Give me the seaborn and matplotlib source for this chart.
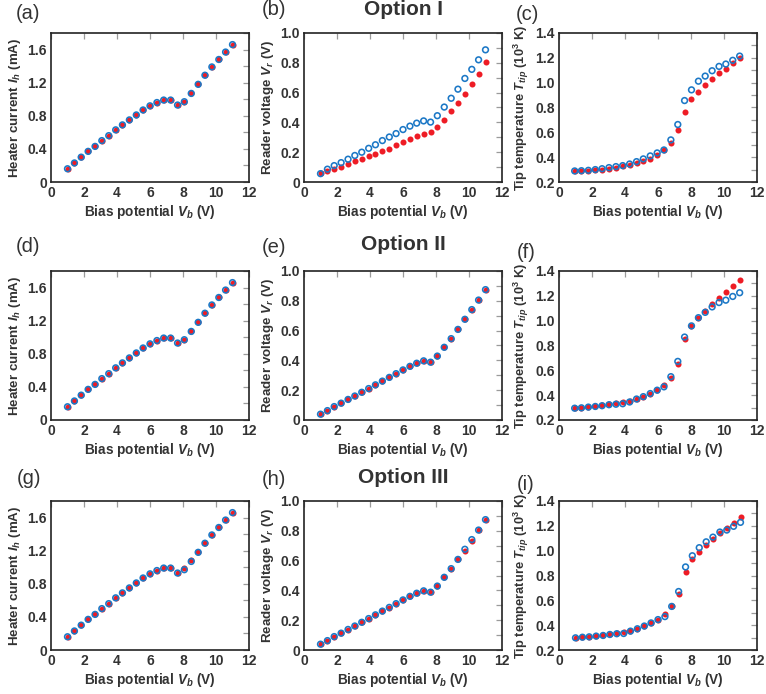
import numpy as np
import matplotlib
matplotlib.use("Agg")
import matplotlib.pyplot as plt
from matplotlib.ticker import MultipleLocator, FuncFormatter
import seaborn as sns

# ---------------- data ----------------
bias = [1.0, 1.42, 1.83, 2.25, 2.67, 3.08, 3.5, 3.92, 4.33, 4.75, 5.17, 5.58, 6.0,
        6.42, 6.83, 7.25, 7.67, 8.08, 8.5, 8.92, 9.33, 9.75, 10.17, 10.58, 11.0]
bias_t = [0.95, 1.36, 1.78, 2.2, 2.61, 3.03, 3.45, 3.86, 4.28, 4.7, 5.11, 5.53, 5.95,
          6.36, 6.78, 7.2, 7.61, 8.03, 8.45, 8.86, 9.28, 9.7, 10.11, 10.53, 10.95]

heater_I = [0.16, 0.23, 0.30, 0.37, 0.43, 0.50, 0.56, 0.63, 0.69, 0.75, 0.81, 0.87, 0.92,
            0.96, 0.99, 0.99, 0.93, 0.97, 1.07, 1.18, 1.29, 1.39, 1.48, 1.57, 1.66]
heater_I_opt3_red = [0.16, 0.23, 0.30, 0.37, 0.43, 0.50, 0.56, 0.63, 0.69, 0.75, 0.81, 0.87, 0.92,
                     0.96, 0.99, 0.99, 0.93, 0.99, 1.085, 1.18, 1.29, 1.39, 1.48, 1.57, 1.66]

vr_opt1_red = [0.059, 0.072, 0.090, 0.104, 0.120, 0.138, 0.156, 0.172, 0.187, 0.205, 0.223, 0.246, 0.266,
               0.287, 0.307, 0.325, 0.334, 0.368, 0.418, 0.474, 0.533, 0.591, 0.655, 0.725, 0.804]
vr_opt1_blue = [0.056, 0.086, 0.110, 0.130, 0.153, 0.178, 0.200, 0.226, 0.250, 0.278, 0.302, 0.325, 0.352,
                0.375, 0.395, 0.410, 0.402, 0.445, 0.503, 0.562, 0.623, 0.695, 0.756, 0.820, 0.887]
vr_opt2 = [0.039, 0.063, 0.090, 0.113, 0.138, 0.161, 0.186, 0.211, 0.236, 0.261, 0.286, 0.311, 0.336,
           0.360, 0.381, 0.397, 0.388, 0.429, 0.488, 0.546, 0.608, 0.676, 0.741, 0.805, 0.875]
vr_opt3_red = [0.039, 0.063, 0.088, 0.111, 0.136, 0.161, 0.186, 0.211, 0.236, 0.261, 0.284, 0.311, 0.336,
               0.360, 0.381, 0.397, 0.388, 0.429, 0.488, 0.546, 0.608, 0.666, 0.732, 0.805, 0.875]

tt_opt1_red = [0.289, 0.289, 0.291, 0.294, 0.300, 0.305, 0.316, 0.326, 0.340, 0.356, 0.370, 0.388, 0.420,
               0.458, 0.515, 0.615, 0.765, 0.867, 0.926, 0.983, 1.028, 1.074, 1.114, 1.157, 1.195]
tt_opt1_blue = [0.289, 0.291, 0.294, 0.300, 0.307, 0.316, 0.324, 0.332, 0.345, 0.364, 0.386, 0.410, 0.434,
                0.458, 0.539, 0.663, 0.856, 0.942, 1.012, 1.053, 1.096, 1.131, 1.150, 1.180, 1.214]
tt_opt2_red = [0.298, 0.300, 0.306, 0.312, 0.320, 0.325, 0.334, 0.345, 0.353, 0.366, 0.388, 0.410, 0.442,
               0.481, 0.541, 0.647, 0.855, 0.958, 1.024, 1.081, 1.133, 1.184, 1.234, 1.283, 1.330]
tt_opt2_blue = [0.295, 0.298, 0.304, 0.309, 0.315, 0.323, 0.327, 0.331, 0.345, 0.369, 0.388, 0.413, 0.440,
                0.467, 0.549, 0.672, 0.868, 0.958, 1.024, 1.067, 1.111, 1.146, 1.165, 1.195, 1.225]
tt_opt3_red = [0.298, 0.303, 0.306, 0.312, 0.320, 0.328, 0.336, 0.344, 0.355, 0.371, 0.393, 0.418, 0.445,
               0.488, 0.551, 0.649, 0.829, 0.929, 0.992, 1.046, 1.092, 1.139, 1.185, 1.226, 1.275]
tt_opt3_blue = [0.298, 0.303, 0.306, 0.312, 0.317, 0.325, 0.331, 0.333, 0.352, 0.371, 0.393, 0.418, 0.445,
                0.469, 0.551, 0.671, 0.869, 0.959, 1.024, 1.071, 1.109, 1.150, 1.166, 1.196, 1.228]

panel_letters = ["(a)", "(b)", "(c)", "(d)", "(e)", "(f)", "(g)", "(h)", "(i)"]
option_titles = ["Option I", "Option II", "Option III"]
xlabel = r"Bias potential $V_b$ (V)"
ylabels = [r"Heater current $I_h$ (mA)", r"Reader voltage $V_r$ (V)",
           r"Tip temperature $T_{tip}$ (10$^{3}$ K)"]

# ---------------- style ----------------
sns.set_theme(style="white")
plt.rcParams["font.family"] = ["Liberation Sans", "DejaVu Sans"]
plt.rcParams["font.weight"] = "bold"
plt.rcParams["mathtext.fontset"] = "custom"
plt.rcParams["mathtext.it"] = "Liberation Sans:italic:bold"
plt.rcParams["mathtext.rm"] = "Liberation Sans:bold"
plt.rcParams["mathtext.bf"] = "Liberation Sans:bold"

RED = "#ee1c25"
BLUE = "#1c78c6"
TXT = "#333333"

W, H = 766, 694
fig = plt.figure(figsize=(W / 100, H / 100), dpi=100)

col_left = [51, 304, 559]
row_top = [33, 271, 501]
ax_w, ax_h = 198, 149

panels = [
    [(bias, heater_I, bias, heater_I), (bias, vr_opt1_red, bias, vr_opt1_blue), (bias_t, tt_opt1_red, bias_t, tt_opt1_blue)],
    [(bias, heater_I, bias, heater_I), (bias, vr_opt2, bias, vr_opt2), (bias_t, tt_opt2_red, bias_t, tt_opt2_blue)],
    [(bias, heater_I_opt3_red, bias, heater_I), (bias, vr_opt3_red, bias, vr_opt2), (bias, tt_opt3_red, bias, tt_opt3_blue)],
]
ylims = [(0, 1.8), (0, 1.0), (0.2, 1.4)]
ymajor = [0.4, 0.2, 0.2]
yminor = [0.2, 0.1, 0.1]
ylabel_size = [9.6, 9.6, 9.3]

letter_pos = [[(16, 19), (262, 15), (516, 20)],
              [(16, 252), (262, 253), (517, 258)],
              [(17, 484), (262, 485), (517, 490)]]
title_base = [15, 250, 483]


def yfmt(v, pos):
    if abs(v) < 1e-9:
        return "0"
    return f"{v:.1f}"


for r in range(3):
    for c in range(3):
        l, t = col_left[c], row_top[r]
        ax = fig.add_axes([l / W, 1 - (t + ax_h) / H, ax_w / W, ax_h / H])
        xr, yr, xb, yb = panels[r][c]
        sns.scatterplot(x=xr, y=yr, ax=ax, color=RED, s=19, linewidth=0, marker="o", zorder=3)
        sns.scatterplot(x=xb, y=yb, ax=ax, s=17, facecolor="none", edgecolor=BLUE,
                        linewidth=1.15, marker="o", zorder=4)
        ax.set_xlim(0, 12)
        ax.set_ylim(*ylims[c])
        ax.xaxis.set_major_locator(MultipleLocator(2))
        ax.yaxis.set_major_locator(MultipleLocator(ymajor[c]))
        ax.yaxis.set_minor_locator(MultipleLocator(yminor[c]))
        ax.yaxis.set_major_formatter(FuncFormatter(yfmt))
        ax.tick_params(which="both", direction="in", top=True, right=True, length=4,
                       width=0.9, color="#9a9a9a", labelcolor=TXT, labelsize=10, pad=3)
        for lab in ax.get_xticklabels() + ax.get_yticklabels():
            lab.set_fontweight("bold")
        for sp in ax.spines.values():
            sp.set_linewidth(1.2)
            sp.set_color("#222222")
        ax.set_xlabel(xlabel, fontsize=9.8, fontweight="bold", color=TXT, labelpad=2)
        ax.set_ylabel(ylabels[c], fontsize=ylabel_size[c], fontweight="bold", color=TXT, labelpad=3)
        ax.grid(False)
        lx, ly = letter_pos[r][c]
        fig.text(lx / W, 1 - ly / H, panel_letters[r * 3 + c], fontsize=14.5,
                 fontweight="normal", color=TXT, ha="left", va="baseline")
    fig.text((304 + 99) / W, 1 - title_base[r] / H, option_titles[r], fontsize=15,
             fontweight="bold", color=TXT, ha="center", va="baseline")

fig.savefig("out.png", dpi=100)
